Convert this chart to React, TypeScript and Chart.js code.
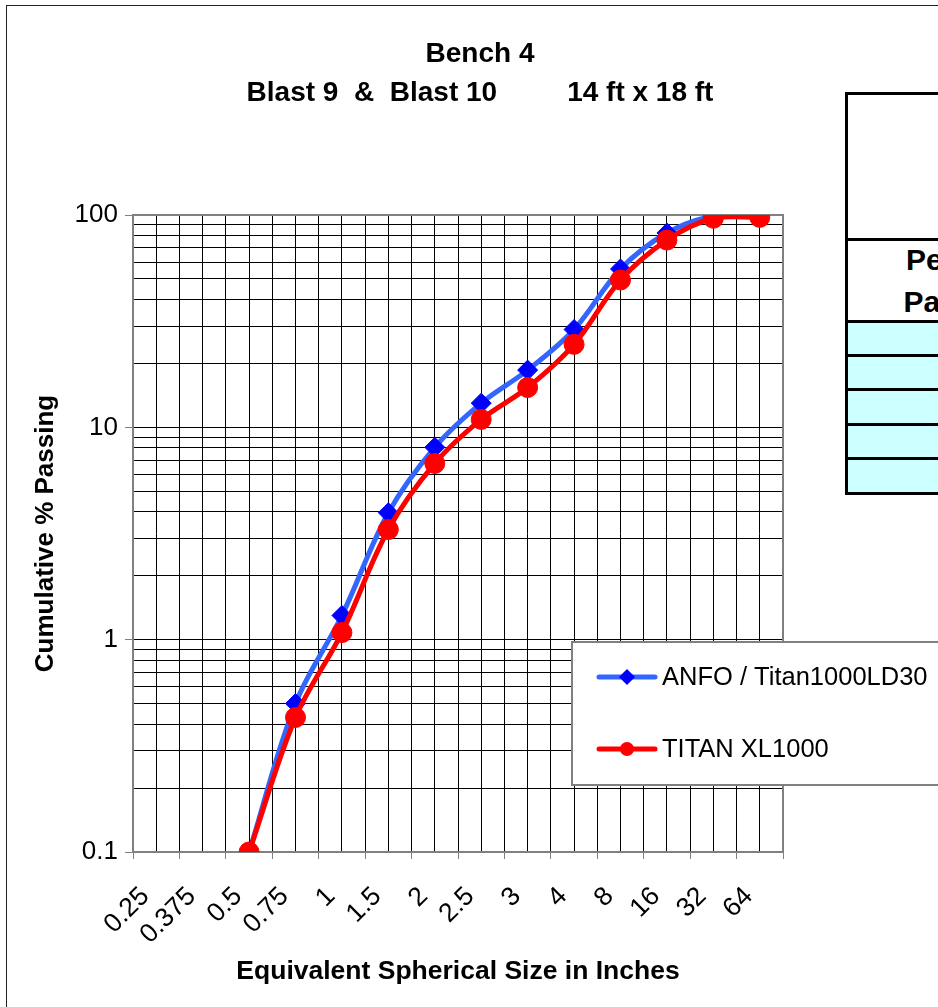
import React, { useEffect, useRef } from "react";
import { Chart, registerables } from "chart.js";

Chart.register(...registerables);

// ---- data ----
const sizeLabels = ["0.25", "0.375", "0.5", "0.75", "1", "1.5", "2", "2.5", "3", "4", "8", "16", "32", "64"];
const anfoPassing = [null, null, 0.1, 0.5, 1.3, 3.96, 8.05, 13.0, 18.6, 28.9, 55.7, 82.3, 99, 100];
const titanPassing = [null, null, 0.1, 0.43, 1.08, 3.3, 6.76, 10.9, 15.4, 24.6, 49.4, 76.2, 96.5, 97.5];
const seriesNames = ["ANFO / Titan1000LD30", "TITAN XL1000"];
const decadeTicks = [0.1, 1, 10, 100];
const gridSteps = [1, 2, 3, 4, 5, 6, 7, 8, 9];
const chartTitle = ["Bench 4", "Blast 9  &  Blast 10         14 ft x 18 ft"];
const xTitle = "Equivalent Spherical Size in Inches";
const yTitle = "Cumulative % Passing";
const tableHeading = ["Percent", "Passing"];
const tableRows = ["", "", "", "", ""];

const FONT = '"Liberation Sans", Arial, Helvetica, sans-serif';

const isDecade = (v: number) => decadeTicks.some((d) => Math.abs(d - v) < 1e-9);

const plotFramePlugin = {
  id: "plotFrame",
  beforeDatasetsDraw(chart: any) {
    const { ctx, chartArea: a } = chart;
    ctx.save();
    ctx.strokeStyle = "#808080";
    ctx.lineWidth = 2;
    ctx.beginPath();
    ctx.moveTo(a.left, a.top);
    ctx.lineTo(a.right, a.top);
    ctx.lineTo(a.right, a.bottom);
    ctx.stroke();
    ctx.restore();
  },
};

const LEGEND = { left: 572, top: 642, bottom: 785, right: 1000, lineX0: 599, lineX1: 655, markX: 627, textX: 662, rows: [677, 749] };

const boxLegendPlugin = {
  id: "boxLegend",
  afterDraw(chart: any) {
    const { ctx } = chart;
    ctx.save();
    ctx.fillStyle = "#ffffff";
    ctx.fillRect(LEGEND.left, LEGEND.top, LEGEND.right - LEGEND.left, LEGEND.bottom - LEGEND.top);
    ctx.strokeStyle = "#808080";
    ctx.lineWidth = 2;
    ctx.strokeRect(LEGEND.left, LEGEND.top, LEGEND.right - LEGEND.left, LEGEND.bottom - LEGEND.top);
    chart.data.datasets.forEach((ds: any, i: number) => {
      const y = LEGEND.rows[i];
      ctx.strokeStyle = ds.borderColor;
      ctx.lineWidth = ds.borderWidth;
      ctx.lineCap = "round";
      ctx.beginPath();
      ctx.moveTo(LEGEND.lineX0, y);
      ctx.lineTo(LEGEND.lineX1, y);
      ctx.stroke();
      ctx.fillStyle = ds.pointBackgroundColor;
      ctx.beginPath();
      const r = 8;
      if (ds.pointStyle === "rectRot") {
        ctx.moveTo(LEGEND.markX - r, y);
        ctx.lineTo(LEGEND.markX, y - r);
        ctx.lineTo(LEGEND.markX + r, y);
        ctx.lineTo(LEGEND.markX, y + r);
        ctx.closePath();
      } else {
        ctx.arc(LEGEND.markX, y, r - 1, 0, Math.PI * 2);
      }
      ctx.fill();
      ctx.fillStyle = "#000";
      ctx.font = `25.5px ${FONT}`;
      ctx.textAlign = "left";
      ctx.textBaseline = "middle";
      ctx.fillText(ds.label, LEGEND.textX, y + 1);
    });
    ctx.restore();
  },
};

export default function App() {
  const ref = useRef<HTMLCanvasElement>(null);

  useEffect(() => {
    const canvas = ref.current;
    if (!canvas) return;
    const chart = new Chart(canvas, {
      type: "line",
      data: {
        labels: sizeLabels,
        datasets: [
          {
            label: seriesNames[0],
            data: anfoPassing,
            xAxisID: "x",
            yAxisID: "y",
            borderColor: "#3366FF",
            backgroundColor: "#0000FF",
            pointBackgroundColor: "#0000FF",
            pointBorderColor: "#0000FF",
            pointStyle: "rectRot",
            pointRadius: 10,
            pointBorderWidth: 1,
            borderWidth: 5,
            tension: 0.35,
            fill: false,
            order: 1,
          },
          {
            label: seriesNames[1],
            data: titanPassing,
            xAxisID: "x",
            yAxisID: "y",
            borderColor: "#FF0000",
            backgroundColor: "#FF0000",
            pointBackgroundColor: "#FF0000",
            pointBorderColor: "#FF0000",
            pointStyle: "circle",
            pointRadius: 10,
            pointBorderWidth: 1,
            borderWidth: 5,
            tension: 0.35,
            fill: false,
            order: 0,
          },
        ],
      },
      options: {
        responsive: false,
        animation: false,
        events: [],
        layout: { padding: 0 },
        plugins: {
          legend: { display: false },
          tooltip: { enabled: false },
          title: {
            display: true,
            text: chartTitle,
            color: "#000",
            font: { family: FONT, size: 28, weight: "bold", lineHeight: 1.393 },
            padding: { top: 34.5, bottom: 102.5 },
          },
        },
        scales: {
          x: {
            type: "category",
            position: "bottom",
            offset: true,
            grid: { offset: true, color: "#000", lineWidth: 1, tickLength: 7, tickColor: "#808080" },
            border: { color: "#808080", width: 2 },
            ticks: {
              autoSkip: false,
              maxRotation: 45,
              minRotation: 45,
              padding: 22,
              labelOffset: -11,
              color: "#000",
              font: { family: FONT, size: 26.5 },
            },
            title: {
              display: true,
              text: xTitle,
              color: "#000",
              font: { family: FONT, size: 26.5, weight: "bold" },
              padding: { top: 0, bottom: 19 },
            },
            afterFit: (s: any) => {
              s.height = 155;
            },
          },
          xMid: {
            type: "category",
            position: "bottom",
            offset: true,
            grid: { offset: false, color: "#000", lineWidth: 1, drawTicks: false },
            ticks: { display: false },
            border: { display: false },
          },
          y: {
            type: "logarithmic",
            position: "left",
            min: 0.1,
            max: 100,
            afterBuildTicks: (scale: any) => {
              const vals: number[] = [];
              decadeTicks.slice(0, -1).forEach((d) => gridSteps.forEach((m) => vals.push(d * m)));
              vals.push(decadeTicks[decadeTicks.length - 1]);
              scale.ticks = vals.map((v) => ({ value: v }));
            },
            grid: {
              color: "#000",
              lineWidth: 1,
              tickLength: 8,
              tickColor: (c: any) => (c.tick && isDecade(c.tick.value) ? "#808080" : "rgba(0,0,0,0)"),
            },
            border: { color: "#808080", width: 2 },
            ticks: {
              autoSkip: false,
              padding: 7,
              color: "#000",
              font: { family: FONT, size: 26 },
              callback: (v: any) => (isDecade(Number(v)) ? String(Number(v)) : ""),
            },
            title: {
              display: true,
              text: yTitle,
              color: "#000",
              font: { family: FONT, size: 26, weight: "bold" },
              padding: { top: 30, bottom: 0 },
            },
            afterFit: (s: any) => {
              s.width = 133;
            },
          },
          yPad: {
            type: "linear",
            position: "right",
            grid: { display: false, drawTicks: false },
            ticks: { display: false },
            border: { display: false },
            afterFit: (s: any) => {
              s.width = 177;
            },
          },
        },
      } as any,
      plugins: [plotFramePlugin, boxLegendPlugin],
    });
    return () => chart.destroy();
  }, []);

  const rowHeights = [34, 34, 35, 34, 32];

  return (
    <div
      style={{
        position: "fixed",
        left: 0,
        top: 0,
        width: 938,
        height: 1007,
        overflow: "hidden",
        background: "#fff",
      }}
    >
      <div
        style={{
          position: "absolute",
          left: 6,
          top: 5,
          width: 1100,
          height: 1100,
          border: "1px solid #222",
          boxSizing: "border-box",
        }}
      />
      <canvas ref={ref} width={960} height={1007} style={{ position: "absolute", left: 0, top: 0, display: "block" }} />
      <div
        style={{
          position: "absolute",
          left: 845,
          top: 92,
          width: 232,
          height: 403,
          border: "3px solid #000",
          boxSizing: "border-box",
          background: "#fff",
          fontFamily: FONT,
        }}
      >
        <div style={{ height: 146, borderBottom: "3px solid #000", boxSizing: "border-box" }} />
        <div
          style={{
            height: 82,
            borderBottom: "3px solid #000",
            boxSizing: "border-box",
            textAlign: "center",
            fontWeight: "bold",
            fontSize: 30,
            lineHeight: "42px",
            color: "#000",
            overflow: "hidden",
          }}
        >
          <div style={{ marginTop: -2 }}>
            {tableHeading.map((t) => (
              <div key={t}>{t}</div>
            ))}
          </div>
        </div>
        {tableRows.map((t, i) => (
          <div
            key={i}
            style={{
              height: rowHeights[i],
              background: "#CCFFFF",
              borderBottom: i < tableRows.length - 1 ? "3px solid #000" : "none",
              boxSizing: "border-box",
            }}
          >
            {t}
          </div>
        ))}
      </div>
    </div>
  );
}
